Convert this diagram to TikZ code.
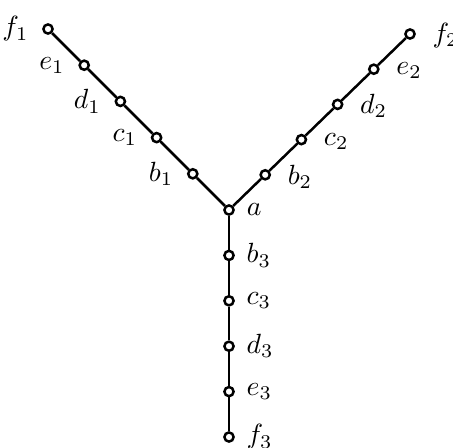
\documentclass[tikz,border=0pt]{standalone}
\usepackage{amsmath}
\usepackage{tikz}

\tikzset{
  vtx/.style={circle,draw,fill=white,line width=0.9pt,inner sep=0pt,minimum size=3.3pt},
  branch/.style={line width=0.9pt},
}

\begin{document}
\begin{tikzpicture}[x=0.36pt,y=-0.36pt]
  \useasboundingbox (0,0) rectangle (453,447);
  % centre of the tree
  \node[vtx,label={[label distance=0.8pt]right:$a$}] (a) at (229,210) {};
  % three branches, five vertices each
  \foreach \v [count=\i] in {b,c,d,e,f} {
    \node[vtx,label={[label distance=1.4pt]left:$\v_1$}] (\v1) at (229-36.2*\i,210-36.2*\i) {};
    \node[vtx,label={[label distance=2.5pt,yshift=-0.6pt]right:$\v_2$}] (\v2) at (229+36.2*\i,210-35.2*\i) {};
    \node[vtx,label={[label distance=0.7pt]right:$\v_3$}] (\v3) at (229,210+45.4*\i) {};
  }
  \foreach \k in {1,2,3}
    \draw[branch] (a) -- (b\k) -- (c\k) -- (d\k) -- (e\k) -- (f\k);
\end{tikzpicture}
\end{document}
